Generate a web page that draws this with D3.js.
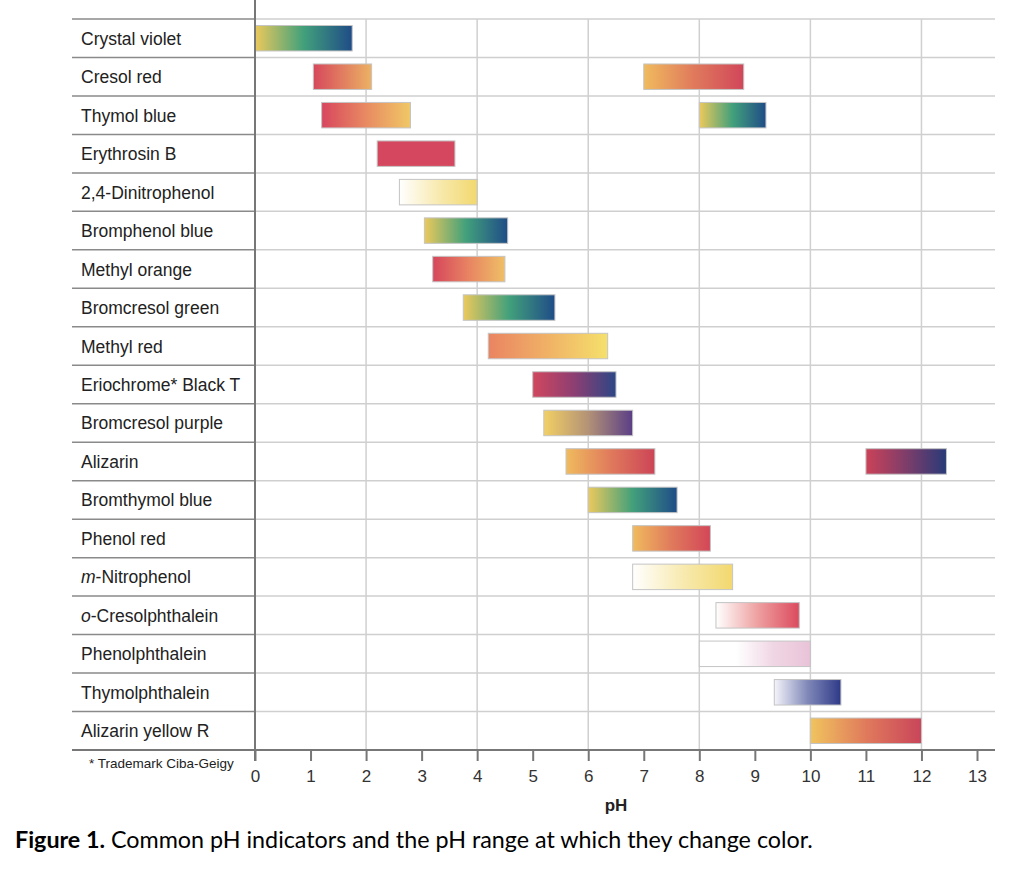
<!DOCTYPE html>
<html lang="en">
<head>
<meta charset="UTF-8">
<title>pH indicators</title>
<style>
  body { margin: 0; background: #fff; }
  svg { display: block; }
</style>
</head>
<body>
<script src="https://d3js.org/d3.v7.min.js"></script>
<script>
// indicator rows, top to bottom
var indicators = ['Crystal violet', 'Cresol red', 'Thymol blue', 'Erythrosin B', '2,4-Dinitrophenol',
  'Bromphenol blue', 'Methyl orange', 'Bromcresol green', 'Methyl red', 'Eriochrome* Black T',
  'Bromcresol purple', 'Alizarin', 'Bromthymol blue', 'Phenol red', 'm-Nitrophenol',
  'o-Cresolphthalein', 'Phenolphthalein', 'Thymolphthalein', 'Alizarin yellow R'];

// colour-change ranges (one entry per bar)
var segName = ['Crystal violet', 'Cresol red', 'Cresol red', 'Thymol blue', 'Thymol blue', 'Erythrosin B',
  '2,4-Dinitrophenol', 'Bromphenol blue', 'Methyl orange', 'Bromcresol green', 'Methyl red',
  'Eriochrome* Black T', 'Bromcresol purple', 'Alizarin', 'Alizarin', 'Bromthymol blue', 'Phenol red',
  'm-Nitrophenol', 'o-Cresolphthalein', 'Phenolphthalein', 'Thymolphthalein', 'Alizarin yellow R'];
var segLow  = [0, 1.05, 7.0, 1.2, 8.0, 2.2, 2.6, 3.05, 3.2, 3.75, 4.2, 5.0, 5.2, 5.6, 11.0, 6.0, 6.8, 6.8, 8.3, 8.0, 9.35, 10.0];
var segHigh = [1.75, 2.1, 8.8, 2.8, 9.2, 3.6, 4.0, 4.55, 4.5, 5.4, 6.35, 6.5, 6.8, 7.2, 12.45, 7.6, 8.2, 8.6, 9.8, 10.0, 10.55, 12.0];
var segColors = [
  ['#ecc95c', '#42a07b', '#1f4c87'],
  ['#d6485c', '#ecb264'],
  ['#f0bb5e', '#e07a5c', '#d1465a'],
  ['#d8465e', '#e88a62', '#f0c866'],
  ['#ecc95c', '#42a07b', '#1f4c87'],
  ['#d5475f', '#d5475f'],
  ['#ffffff', '#f8eab0', '#f2d86e'],
  ['#ecc95c', '#42a07b', '#1f4c87'],
  ['#d6465c', '#e88462', '#efbf66'],
  ['#ecc95c', '#42a07b', '#1f4c87'],
  ['#ea8462', '#f0b266', '#f5e06c'],
  ['#d1475e', '#8c3f72', '#2c4686'],
  ['#f2d064', '#b39276', '#5a3e86'],
  ['#f0bb5e', '#e07a5c', '#cc4457'],
  ['#cb4258', '#7e3d6a', '#283a78'],
  ['#ecc95c', '#42a07b', '#1f4c87'],
  ['#f0bb5e', '#e07a5c', '#d34658'],
  ['#ffffff', '#f8eab0', '#f2d86e'],
  ['#ffffff', '#eea0a0', '#db4a5e'],
  ['#ffffff', '#ffffff', '#f0d6e4', '#e9c3d8'],
  ['#f4f4fa', '#8088b8', '#2e3a88'],
  ['#f0c45e', '#e07a5c', '#c9455a']
];
var phTicks = [0, 1, 2, 3, 4, 5, 6, 7, 8, 9, 10, 11, 12, 13];
var phGrid = [2, 4, 6, 8, 10, 12];

var width = 1024, height = 896;
var plotTop = 19, axisY = 750, plotLeft = 255, labelLeft = 72, gridRight = 995;

var svg = d3.select('body').append('svg')
  .attr('width', width)
  .attr('height', height);

var xScale = d3.scaleLinear().domain([0, 13]).range([plotLeft, 977]);
var yScale = d3.scaleBand().domain(indicators).range([plotTop, axisY]);

// vertical grid
svg.append('g').selectAll('line')
  .data(phGrid).enter().append('line')
  .attr('x1', d => xScale(d)).attr('x2', d => xScale(d))
  .attr('y1', plotTop).attr('y2', axisY)
  .style('stroke', '#d0d0d0').style('stroke-width', 1.5);

// row separators (labels side darker)
var rowLines = indicators.map(d => yScale(d));
svg.append('g').selectAll('line')
  .data(rowLines).enter().append('line')
  .attr('x1', plotLeft).attr('x2', gridRight)
  .attr('y1', d => d).attr('y2', d => d)
  .style('stroke', '#cfcfcf').style('stroke-width', 1.5);
svg.append('g').selectAll('line')
  .data(rowLines).enter().append('line')
  .attr('x1', labelLeft).attr('x2', plotLeft)
  .attr('y1', d => d).attr('y2', d => d)
  .style('stroke', '#8a8a8a').style('stroke-width', 1.5);

// gradients
var defs = svg.append('defs');
segColors.forEach(function(cols, i) {
  var g = defs.append('linearGradient').attr('id', 'grad' + i)
    .attr('x1', '0%').attr('x2', '100%').attr('y1', '0%').attr('y2', '0%');
  cols.forEach(function(c, j) {
    g.append('stop').attr('offset', (j / (cols.length - 1) * 100) + '%').attr('stop-color', c);
  });
});

// bars
var barPad = 6.5;
svg.append('g').selectAll('rect')
  .data(segName).enter().append('rect')
  .attr('x', (d, i) => xScale(segLow[i]))
  .attr('y', d => yScale(d) + barPad)
  .attr('width', (d, i) => xScale(segHigh[i]) - xScale(segLow[i]))
  .attr('height', yScale.bandwidth() - 2 * barPad)
  .style('fill', (d, i) => 'url(#grad' + i + ')')
  .style('stroke', '#c4c4c4').style('stroke-width', 1);

// row labels
var labels = svg.append('g').selectAll('text')
  .data(indicators).enter().append('text')
  .attr('x', 81)
  .attr('y', d => yScale(d) + yScale.bandwidth() / 2 + 6.5)
  .style('font-family', 'Liberation Sans, Arial, sans-serif')
  .style('font-size', '17.5px')
  .style('fill', '#222');
labels.each(function(d) {
  var t = d3.select(this);
  if (d.startsWith('m-') || d.startsWith('o-')) {
    t.append('tspan').style('font-style', 'italic').text(d[0]);
    t.append('tspan').text(d.slice(1));
  } else {
    t.text(d);
  }
});

// x axis
svg.append('line')
  .attr('x1', labelLeft).attr('x2', gridRight)
  .attr('y1', axisY).attr('y2', axisY)
  .style('stroke', '#777').style('stroke-width', 2);
svg.append('line')
  .attr('x1', plotLeft).attr('x2', plotLeft)
  .attr('y1', 0).attr('y2', axisY + 11)
  .style('stroke', '#777').style('stroke-width', 2);

var axis = svg.append('g')
  .attr('transform', `translate(0, ${axisY})`)
  .call(d3.axisBottom(xScale).tickValues(phTicks).tickSize(11).tickPadding(9).tickFormat(d3.format('d')));
axis.select('.domain').remove();
axis.selectAll('.tick line').style('stroke', '#777').style('stroke-width', 2);
axis.selectAll('.tick text')
  .style('font-family', 'Liberation Sans, Arial, sans-serif')
  .style('font-size', '17px')
  .style('fill', '#333');

svg.append('text')
  .text('pH')
  .attr('x', xScale(6.5))
  .attr('y', 811)
  .attr('text-anchor', 'middle')
  .style('font-family', 'Liberation Sans, Arial, sans-serif')
  .style('font-weight', 'bold')
  .style('font-size', '17px')
  .style('fill', '#222');

svg.append('text')
  .text('* Trademark Ciba-Geigy')
  .attr('x', 89)
  .attr('y', 768)
  .style('font-family', 'Liberation Sans, Arial, sans-serif')
  .style('font-size', '13.5px')
  .style('fill', '#222');

var caption = svg.append('text')
  .attr('x', 15)
  .attr('y', 848)
  .style('font-family', 'Lato, sans-serif')
  .style('font-size', '23.3px')
  .style('fill', '#000');
caption.append('tspan').style('font-weight', 'bold').text('Figure 1.');
caption.append('tspan').text(' Common pH indicators and the pH range at which they change color.');
</script>
</body>
</html>
